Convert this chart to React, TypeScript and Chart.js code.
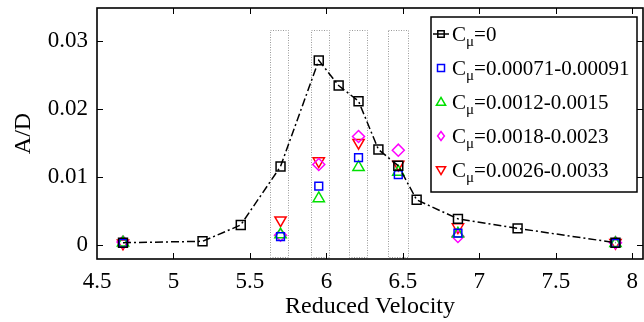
import React, { useEffect, useRef } from "react";
import { Chart, registerables } from "chart.js";

Chart.register(...registerables);

// ---- data ----
const X_BASE = [4.67, 5.19, 5.44, 5.70, 5.95, 6.08, 6.21, 6.34, 6.47, 6.59, 6.86, 7.25, 7.89];
const Y_BASE = [0.0004, 0.0006, 0.0030, 0.0116, 0.0272, 0.0235, 0.0212, 0.0141, 0.0117, 0.0067, 0.0039, 0.0025, 0.0004];

const X_CTRL = [4.67, 5.70, 5.95, 6.21, 6.47, 6.86, 7.89];
const Y_BLUE = [0.0003, 0.0013, 0.0087, 0.0129, 0.0104, 0.0018, 0.0003];
const Y_GREEN = [0.0004, 0.0016, 0.0069, 0.0115, 0.0108, 0.0017, 0.0003];
const Y_MAGENTA = [0.0005, 0.0015, 0.0119, 0.0160, 0.0140, 0.0013, 0.0004];
const Y_RED = [0.0003, 0.0037, 0.0124, 0.0151, 0.0119, 0.0027, 0.0004];

const LEGEND_SUFFIX = ["=0", "=0.00071-0.00091", "=0.0012-0.0015", "=0.0018-0.0023", "=0.0026-0.0033"];
const SERIES_COLORS = ["#000000", "#0000ff", "#00e000", "#ff00ff", "#ff0000"];

const X_TICKS = [4.5, 5, 5.5, 6, 6.5, 7, 7.5, 8];
const X_TICK_LABELS = ["4.5", "5", "5.5", "6", "6.5", "7", "7.5", "8"];
const Y_TICKS = [0, 0.01, 0.02, 0.03];
const Y_TICK_LABELS = ["0", "0.01", "0.02", "0.03"];

// dotted highlight boxes (x ranges) and their y extent
const BOX_X = [[5.63, 5.75], [5.90, 6.02], [6.15, 6.27], [6.40, 6.53]];
const BOX_Y = [-0.0018, 0.0316];

const SERIF = "'Liberation Serif', 'Times New Roman', serif";

function marker(ctx: CanvasRenderingContext2D, kind: string, x: number, y: number, s: number, color: string) {
  ctx.save();
  ctx.strokeStyle = color;
  ctx.lineWidth = 1.5;
  ctx.setLineDash([]);
  ctx.beginPath();
  if (kind === "rect") {
    ctx.rect(x - s, y - s, 2 * s, 2 * s);
  } else if (kind === "tri") {
    ctx.moveTo(x, y - s * 1.1);
    ctx.lineTo(x + s * 1.1, y + s * 0.8);
    ctx.lineTo(x - s * 1.1, y + s * 0.8);
    ctx.closePath();
  } else if (kind === "dtri") {
    ctx.moveTo(x, y + s * 1.1);
    ctx.lineTo(x + s * 1.1, y - s * 0.8);
    ctx.lineTo(x - s * 1.1, y - s * 0.8);
    ctx.closePath();
  } else if (kind === "dia") {
    ctx.moveTo(x, y - s * 1.3);
    ctx.lineTo(x + s, y);
    ctx.lineTo(x, y + s * 1.3);
    ctx.lineTo(x - s, y);
    ctx.closePath();
  }
  ctx.stroke();
  ctx.restore();
}

const boxesPlugin = {
  id: "boxes",
  beforeDatasetsDraw(chart: any) {
    const { ctx, scales } = chart;
    const xs = scales.x, ys = scales.y;
    ctx.save();
    ctx.strokeStyle = "#9a9a9a";
    ctx.lineWidth = 1;
    ctx.setLineDash([1, 1.5]);
    for (const [a, b] of BOX_X) {
      const x1 = xs.getPixelForValue(a), x2 = xs.getPixelForValue(b);
      const y1 = ys.getPixelForValue(BOX_Y[1]), y2 = ys.getPixelForValue(BOX_Y[0]);
      ctx.strokeRect(Math.round(x1) + 0.5, Math.round(y1) + 0.5, Math.round(x2 - x1), Math.round(y2 - y1));
    }
    ctx.restore();
  },
};

const framePlugin = {
  id: "frame",
  afterDraw(chart: any) {
    const { ctx, chartArea, scales } = chart;
    const { left, right, top, bottom } = chartArea;
    ctx.save();
    // legend
    const lx = 431, ly = 17, lw = 206, lh = 175;
    ctx.fillStyle = "#ffffff";
    ctx.fillRect(lx, ly, lw, lh);
    ctx.strokeStyle = "#000";
    ctx.lineWidth = 1.5;
    ctx.setLineDash([]);
    ctx.strokeRect(lx, ly, lw, lh);
    const kinds = ["rect", "rect", "tri", "dia", "dtri"];
    const sizes = [3.2, 3.5, 4.2, 3.4, 4.2];
    for (let i = 0; i < LEGEND_SUFFIX.length; i++) {
      const cy = ly + 17 + i * 34;
      const mx = 441;
      if (i === 0) {
        ctx.strokeStyle = "#000";
        ctx.lineWidth = 1.5;
        ctx.beginPath();
        ctx.moveTo(433, cy);
        ctx.lineTo(449, cy);
        ctx.stroke();
      }
      marker(ctx, kinds[i], mx, cy, sizes[i], SERIES_COLORS[i]);
      ctx.fillStyle = "#000";
      ctx.textBaseline = "alphabetic";
      ctx.textAlign = "left";
      const base = cy + 7;
      ctx.font = `21px ${SERIF}`;
      let tx = 452;
      ctx.fillText("C", tx, base);
      tx += ctx.measureText("C").width;
      ctx.font = `15px ${SERIF}`;
      ctx.fillText("\u03bc", tx, base + 5);
      tx += ctx.measureText("\u03bc").width;
      ctx.font = `21px ${SERIF}`;
      ctx.fillText(LEGEND_SUFFIX[i], tx, base);
    }
    // axes frame
    ctx.strokeStyle = "#000";
    ctx.lineWidth = 1.6;
    ctx.strokeRect(left, top, right - left, bottom - top);
    // inward ticks
    ctx.lineWidth = 1;
    const tl = 6;
    ctx.beginPath();
    for (const v of X_TICKS) {
      const px = Math.round(scales.x.getPixelForValue(v)) + 0.5;
      if (px <= left + 1 || px >= right - 1) continue;
      ctx.moveTo(px, bottom);
      ctx.lineTo(px, bottom - tl);
      ctx.moveTo(px, top);
      ctx.lineTo(px, top + tl);
    }
    for (const v of Y_TICKS) {
      const py = Math.round(scales.y.getPixelForValue(v)) + 0.5;
      ctx.moveTo(left, py);
      ctx.lineTo(left + tl, py);
      ctx.moveTo(right, py);
      ctx.lineTo(right - tl, py);
    }
    ctx.stroke();
    ctx.restore();
  },
};

function pts(xs: number[], ys: number[]) {
  return xs.map((x, i) => ({ x, y: ys[i] }));
}

function zeroPad(s: any) {
  s.paddingLeft = 0;
  s.paddingRight = 0;
  s.paddingTop = 0;
  s.paddingBottom = 0;
}

export default function App() {
  const ref = useRef<HTMLCanvasElement | null>(null);
  useEffect(() => {
    if (!ref.current) return;
    const chart = new Chart(ref.current, {
      type: "scatter",
      data: {
        datasets: [
          {
            label: "Cμ=0",
            data: pts(X_BASE, Y_BASE),
            showLine: true,
            borderColor: SERIES_COLORS[0],
            borderWidth: 1.5,
            borderDash: [8, 3, 2, 3],
            pointStyle: "rect",
            pointRadius: 6.3,
            pointBorderWidth: 1.5,
            pointBorderColor: SERIES_COLORS[0],
            pointBackgroundColor: "rgba(0,0,0,0)",
          },
          {
            label: "Cμ=0.00071-0.00091",
            data: pts(X_CTRL, Y_BLUE),
            showLine: false,
            pointStyle: "rect",
            pointRadius: 5.5,
            pointBorderWidth: 1.5,
            pointBorderColor: SERIES_COLORS[1],
            pointBackgroundColor: "rgba(0,0,0,0)",
          },
          {
            label: "Cμ=0.0012-0.0015",
            data: pts(X_CTRL, Y_GREEN),
            showLine: false,
            pointStyle: "triangle",
            pointRadius: 6.5,
            pointBorderWidth: 1.5,
            pointBorderColor: SERIES_COLORS[2],
            pointBackgroundColor: "rgba(0,0,0,0)",
          },
          {
            label: "Cμ=0.0018-0.0023",
            data: pts(X_CTRL, Y_MAGENTA),
            showLine: false,
            pointStyle: "rectRot",
            pointRadius: 6,
            pointBorderWidth: 1.5,
            pointBorderColor: SERIES_COLORS[3],
            pointBackgroundColor: "rgba(0,0,0,0)",
          },
          {
            label: "Cμ=0.0026-0.0033",
            data: pts(X_CTRL, Y_RED),
            showLine: false,
            pointStyle: "triangle",
            pointRotation: 180,
            pointRadius: 6.5,
            pointBorderWidth: 1.5,
            pointBorderColor: SERIES_COLORS[4],
            pointBackgroundColor: "rgba(0,0,0,0)",
          },
        ],
      },
      options: {
        animation: false,
        responsive: false,
        layout: { autoPadding: false, padding: { top: 8, right: 1, left: 0, bottom: 0 } },
        plugins: {
          legend: { display: false },
          tooltip: { enabled: false },
        },
        scales: {
          x: {
            type: "linear",
            min: 4.5,
            max: 8.07,
            afterBuildTicks: (s: any) => {
              s.ticks = X_TICKS.map((v) => ({ value: v }));
            },
            afterFit: (s: any) => {
              s.height = 63;
              zeroPad(s);
            },
            ticks: {
              callback: (v: any) => {
                const i = X_TICKS.indexOf(Number(v));
                return i >= 0 ? X_TICK_LABELS[i] : "";
              },
              color: "#000",
              font: { family: SERIF, size: 23 },
              padding: 9,
              maxRotation: 0,
              autoSkip: false,
            },
            grid: { display: false, drawTicks: false },
            border: { display: false },
            title: {
              display: true,
              text: "Reduced Velocity",
              color: "#000",
              font: { family: SERIF, size: 24 },
              padding: { top: 0, bottom: 1 },
            },
          },
          y: {
            type: "linear",
            min: -0.002,
            max: 0.0349,
            afterBuildTicks: (s: any) => {
              s.ticks = Y_TICKS.map((v) => ({ value: v }));
            },
            afterFit: (s: any) => {
              s.width = 97;
              zeroPad(s);
            },
            ticks: {
              callback: (v: any) => {
                const i = Y_TICKS.findIndex((t) => Math.abs(t - Number(v)) < 1e-9);
                return i >= 0 ? Y_TICK_LABELS[i] : "";
              },
              color: "#000",
              font: { family: SERIF, size: 23 },
              padding: 9,
            },
            grid: { display: false, drawTicks: false },
            border: { display: false },
            title: {
              display: true,
              text: "A/D",
              color: "#000",
              font: { family: SERIF, size: 24 },
              padding: { top: 9, bottom: 0 },
            },
          },
        },
      },
      plugins: [boxesPlugin, framePlugin],
    } as any);
    return () => chart.destroy();
  }, []);
  return (
    <div style={{ position: "fixed", left: 0, top: 0, width: 644, height: 322, background: "#fff" }}>
      <canvas ref={ref} width={644} height={322} style={{ display: "block" }} />
    </div>
  );
}
